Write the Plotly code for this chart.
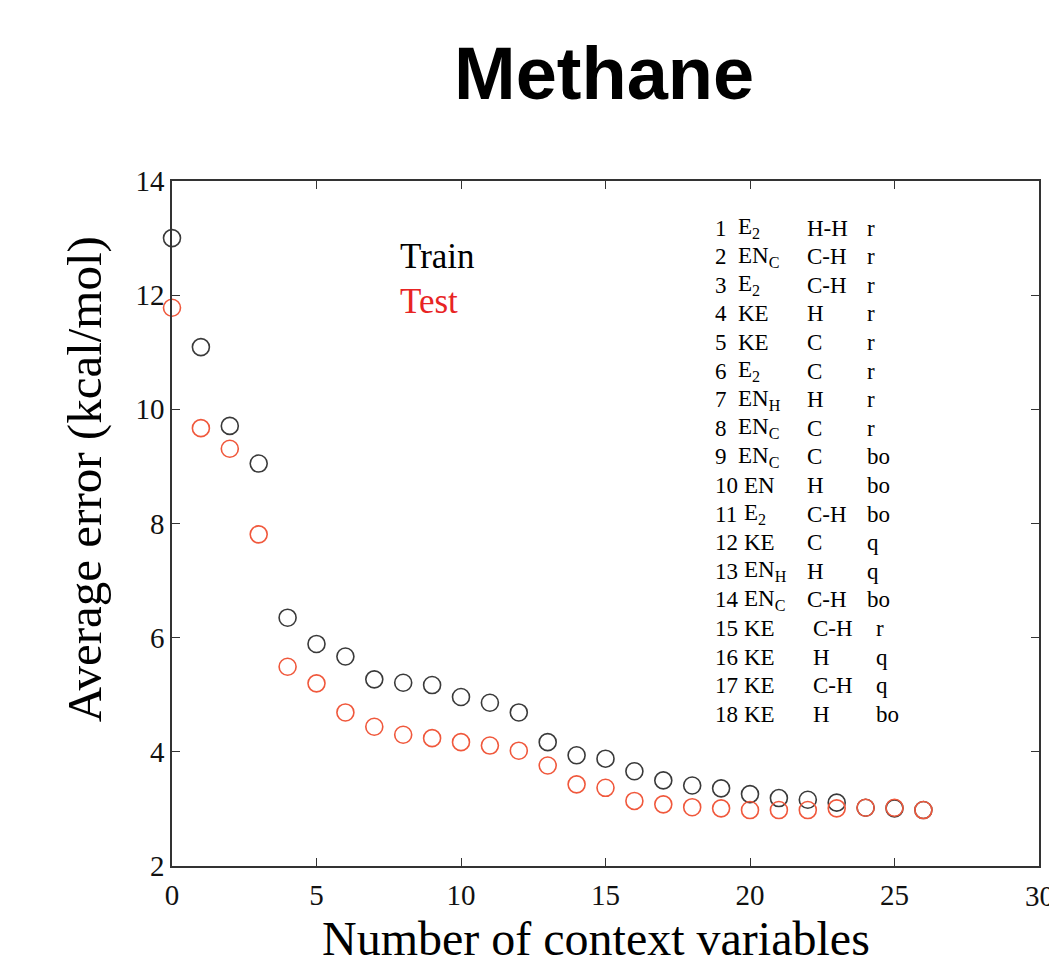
import plotly.graph_objects as go

# Number of context variables on the x axis
n_vars = list(range(27))

# Average error (kcal/mol) for training and test sets
train_err = [13.00, 11.09, 9.71, 9.05, 6.35, 5.89, 5.67, 5.27, 5.21, 5.17,
             4.96, 4.86, 4.69, 4.17, 3.94, 3.88, 3.66, 3.50, 3.41, 3.36,
             3.26, 3.19, 3.16, 3.11, 3.02, 3.01, 2.98]
test_err = [11.78, 9.67, 9.31, 7.81, 5.49, 5.20, 4.69, 4.44, 4.30, 4.24,
            4.17, 4.11, 4.02, 3.76, 3.43, 3.37, 3.14, 3.08, 3.03, 3.01,
            2.98, 2.98, 2.98, 3.01, 3.02, 3.02, 2.98]

# Axis tick values
x_ticks = [0, 5, 10, 15, 20, 25, 30]
y_ticks = [2, 4, 6, 8, 10, 12, 14]

# Ordered list of selected context variables
var_index = list(range(1, 19))
var_quantity = ["E<sub>2</sub>", "EN<sub>C</sub>", "E<sub>2</sub>", "KE", "KE",
                "E<sub>2</sub>", "EN<sub>H</sub>", "EN<sub>C</sub>", "EN<sub>C</sub>",
                "EN", "E<sub>2</sub>", "KE", "EN<sub>H</sub>", "EN<sub>C</sub>",
                "KE", "KE", "KE", "KE"]
var_center = ["H-H", "C-H", "C-H", "H", "C", "C", "H", "C", "C", "H",
              "C-H", "C", "H", "C-H", "C-H", "H", "C-H", "H"]
var_kind = ["r", "r", "r", "r", "r", "r", "r", "r", "bo", "bo",
            "bo", "q", "q", "bo", "r", "q", "q", "bo"]

W, H = 1049, 971
L, R, T, B = 172, 8, 181, 105
PW, PH = W - L - R, H - T - B

SERIF = "Liberation Serif, Times New Roman, serif"
SANS = "Liberation Sans, Arial, sans-serif"
AXIS_COLOR = "#333333"
TRAIN_COLOR = "#3a3a3a"
TEST_COLOR = "#f0583c"
TICK_FONT = dict(family=SERIF, size=29, color="#111111")


def px(xp):
    return (xp - L) / PW


def py(yp):
    return 1 - (yp - T) / PH


fig = go.Figure()
fig.add_trace(go.Scatter(
    x=n_vars, y=train_err, mode="markers", name="Train",
    marker=dict(symbol="circle-open", size=17, color=TRAIN_COLOR,
                line=dict(width=1.6, color=TRAIN_COLOR)),
    cliponaxis=False,
))
fig.add_trace(go.Scatter(
    x=n_vars, y=test_err, mode="markers", name="Test",
    marker=dict(symbol="circle-open", size=17, color=TEST_COLOR,
                line=dict(width=1.6, color=TEST_COLOR)),
    cliponaxis=False,
))

axis_common = dict(
    showline=True, linecolor=AXIS_COLOR, linewidth=1.6, mirror="allticks",
    ticks="inside", ticklen=8, tickwidth=1.4, tickcolor=AXIS_COLOR,
    showgrid=False, zeroline=False, tickfont=TICK_FONT,
)

fig.update_xaxes(range=[x_ticks[0], x_ticks[-1]], tickvals=x_ticks,
                 ticklabelstandoff=2, **axis_common)
fig.update_yaxes(range=[y_ticks[0], y_ticks[-1]], tickvals=y_ticks,
                 ticklabelstandoff=0, **axis_common)

annotations = []

# Last x tick label sits on the page edge; draw it explicitly so it is
# clipped by the page rather than dropped by the axis.
annotations.append(dict(
    text=str(x_ticks[-1]), x=x_ticks[-1], y=py(896), xref="x", yref="paper",
    xanchor="center", yanchor="middle", showarrow=False, font=TICK_FONT,
))

# Title
annotations.append(dict(
    text="<b>Methane</b>", x=px(605), y=py(73), xref="paper", yref="paper",
    xanchor="center", yanchor="middle", showarrow=False,
    font=dict(family=SANS, size=74, color="black"),
))

# Axis titles
annotations.append(dict(
    text="Number of context variables", x=px(597), y=py(939),
    xref="paper", yref="paper", xanchor="center", yanchor="middle",
    showarrow=False, font=dict(family=SERIF, size=48, color="black"),
))
annotations.append(dict(
    text="Average error (kcal/mol)", x=px(84), y=py(479),
    xref="paper", yref="paper", xanchor="center", yanchor="middle",
    textangle=-90, showarrow=False,
    font=dict(family=SERIF, size=49, color="black"),
))

# Series labels
annotations.append(dict(
    text="Train", x=px(399), y=py(256), xref="paper", yref="paper",
    xanchor="left", yanchor="middle", showarrow=False,
    font=dict(family=SERIF, size=35, color="black"),
))
annotations.append(dict(
    text="Test", x=px(399), y=py(302), xref="paper", yref="paper",
    xanchor="left", yanchor="middle", showarrow=False,
    font=dict(family=SERIF, size=35, color="#e82424"),
))

# Variable list
row_top, row_step = 228, 28.6
label_font = dict(family=SERIF, size=23, color="black")
for i, (idx, qty, ctr, kind) in enumerate(zip(var_index, var_quantity, var_center, var_kind)):
    yy = py(row_top + i * row_step)
    cells = [
        (str(idx), 714),
        (qty, 737 if idx < 10 else 743),
        (ctr, 806 if idx < 15 else 812),
        (kind, 867 if idx < 15 else 876),
    ]
    for text, xpix in cells:
        annotations.append(dict(
            text=text, x=px(xpix), y=yy, xref="paper", yref="paper",
            xanchor="left", yanchor="middle", showarrow=False, font=label_font,
        ))

fig.update_layout(
    width=W, height=H,
    margin=dict(l=L, r=R, t=T, b=B),
    paper_bgcolor="white", plot_bgcolor="white",
    showlegend=False,
    annotations=annotations,
)

fig.write_html("out.html")
